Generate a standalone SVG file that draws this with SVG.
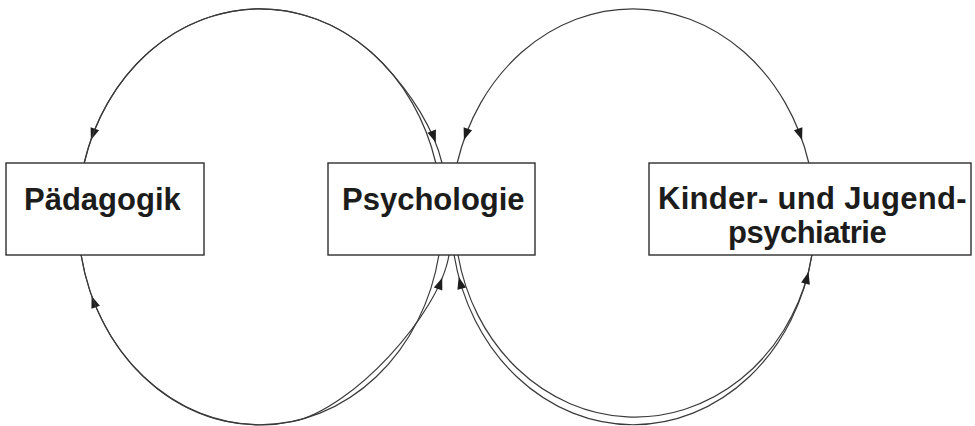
<svg xmlns="http://www.w3.org/2000/svg" xmlns:xlink="http://www.w3.org/1999/xlink" width="975" height="426" viewBox="0 0 975 426">
<style>
.bg{fill:#ffffff}
.box{fill:#ffffff;stroke:#2e2e2e;stroke-width:1.4}
.lbl{font-family:"Liberation Sans",Arial,sans-serif;font-weight:bold;font-size:31px;fill:#1c1c1c}
.con{fill:none;stroke:#3a3a3a;stroke-width:1.2}
.ah{fill:#1e1e1e}
</style>
<defs>
<path id="ah" class="ah" d="M0,0 L-12,-4.5 L-12,4.5 Z"/>
</defs>
<rect class="bg" x="0" y="0" width="975" height="426"/>
<g id="connectors">
<g id="c-psy-paed-top">
<path class="con" d="M435.8,163 A182 208 0 0 0 84.2,163"/>
<use xlink:href="#ah" href="#ah" transform="translate(90.9,140) rotate(109.2)"/>
</g>
<g id="c-paed-psy-top">
<path class="con" d="M84.2,163 A182 208 0 0 1 382.96,63.6 C410.6,92.5 434,128.9 442,163"/>
<use xlink:href="#ah" href="#ah" transform="translate(435.8,142.4) rotate(70)"/>
</g>
<g id="c-psy-paed-bottom">
<path class="con" d="M438.9,255 A182 208 0 0 1 81.1,255"/>
<use xlink:href="#ah" href="#ah" transform="translate(91.6,296) rotate(-109.8)"/>
</g>
<g id="c-paed-psy-bottom">
<path class="con" d="M81.1,255 A182 208 0 0 0 293.2,421.5 C351.9,409.1 439.3,314.2 449,255"/>
<use xlink:href="#ah" href="#ah" transform="translate(442.2,277.7) rotate(-70)"/>
</g>
<g id="c-psy-kjp-top">
<path class="con" d="M457.2,163 A182 208 0 0 1 808.8,163"/>
<use xlink:href="#ah" href="#ah" transform="translate(802.1,140) rotate(70.8)"/>
<use xlink:href="#ah" href="#ah" transform="translate(463.9,140) rotate(109.2)"/>
</g>
<g id="c-kjp-psy-bottom">
<path class="con" d="M811.9,255 A182 208 0 0 1 454.1,255"/>
<use xlink:href="#ah" href="#ah" transform="translate(458.7,277) rotate(-104.8)"/>
</g>
<g id="c-psy-kjp-bottom">
<path class="con" d="M458,255 A180.35 200 0 0 0 808.5,272 L811.9,255"/>
<use xlink:href="#ah" href="#ah" transform="translate(808.5,272) rotate(-75.5)"/>
</g>
</g>
<g id="node-paedagogik">
<rect class="box" x="6" y="163" width="198" height="92"/>
<text class="lbl" x="24" y="210">Pädagogik</text>
</g>
<g id="node-psychologie">
<rect class="box" x="328" y="163" width="207" height="92"/>
<text class="lbl" x="342" y="210">Psychologie</text>
</g>
<g id="node-kjp">
<rect class="box" x="649" y="163" width="322" height="92"/>
<text class="lbl" x="658" y="209" letter-spacing="0.3">Kinder- und Jugend-</text>
<text class="lbl" x="728" y="243" letter-spacing="-0.5">psychiatrie</text>
</g>
</svg>
